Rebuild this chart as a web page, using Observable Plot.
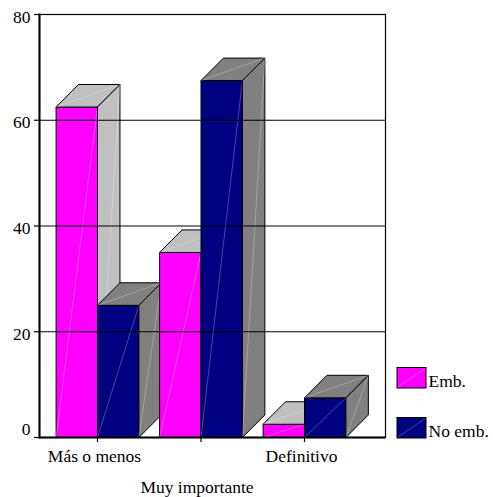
<!DOCTYPE html>
<html>
<head>
<meta charset="utf-8">
<script src="https://cdn.jsdelivr.net/npm/d3@7"></script>
<script src="https://cdn.jsdelivr.net/npm/@observablehq/plot@0.6"></script>
<style>
  body { margin: 0; background: #ffffff; }
  #chart svg { display: block; }
</style>
</head>
<body>
<div id="chart"></div>
<script>
// Survey answers (percent) by group
const categories = ["Más o menos", "Muy importante", "Definitivo"];
const seriesNames = ["Emb.", "No emb."];
const embValues = [62.5, 35, 2.5];
const noEmbValues = [25, 67.5, 7.5];
const yTicks = [0, 20, 40, 60, 80];

// Face colours for each series: front face and the shaded top/side faces
const seriesStyle = [
  { front: "#ff00ff", shade: "#c0c0c0" },
  { front: "#000080", shade: "#808080" }
];

// Bar width in category units and the oblique depth of the 3D extrusion
const BAR_W = 0.4;
const DEPTH_X = 0.217; // category units
const DEPTH_Y = 4.26;  // value units

const seriesValues = [embValues, noEmbValues];
const bars = [];
categories.forEach((category, i) => {
  seriesValues.forEach((vals, s) => {
    const x1 = i - BAR_W + s * BAR_W;
    bars.push({ category, series: seriesNames[s], s, x1, x2: x1 + BAR_W, value: vals[i] });
  });
});

const P = (x, y) => ({ x, y });

// Front, top and side faces of one extruded bar, each with its shading diagonal
function barFaces(b) {
  const { x1, x2, value: v } = b;
  const st = seriesStyle[b.s];
  return [
    {
      fill: st.front,
      pts: [P(x1, 0), P(x2, 0), P(x2, v), P(x1, v), P(x1, 0)],
      diag: [P(x1, 0), P(x2, v)]
    },
    {
      fill: st.shade,
      pts: [P(x1, v), P(x2, v), P(x2 + DEPTH_X, v + DEPTH_Y), P(x1 + DEPTH_X, v + DEPTH_Y), P(x1, v)],
      diag: [P(x1, v), P(x2 + DEPTH_X, v + DEPTH_Y)]
    },
    {
      fill: st.shade,
      pts: [P(x2, 0), P(x2 + DEPTH_X, DEPTH_Y), P(x2 + DEPTH_X, v + DEPTH_Y), P(x2, v), P(x2, 0)],
      diag: [P(x2, 0), P(x2 + DEPTH_X, v + DEPTH_Y)]
    }
  ];
}

// Bars are painted left to right so nearer faces overlap earlier ones
const barMarks = bars.flatMap(b => barFaces(b).flatMap(f => [
  Plot.line(f.pts, { x: "x", y: "y", fill: f.fill, stroke: "black", strokeWidth: 1, strokeLinejoin: "miter" }),
  Plot.line(f.diag, { x: "x", y: "y", stroke: "white", strokeOpacity: 0.35, strokeWidth: 0.8 })
]));

const labelRows = categories.map((label, i) => ({ label, i, row: i % 2 }));

const font = "'Liberation Serif', 'Times New Roman', serif";
const fontSize = 17.5;

const chart = Plot.plot({
  width: 493,
  height: 497,
  marginLeft: 39,
  marginRight: 108,
  marginTop: 14,
  marginBottom: 60,
  style: { fontFamily: font, fontSize: fontSize + "px", color: "black", background: "white" },
  x: { type: "linear", domain: [-0.5, 2.5], range: [45.25, 355.75], axis: null },
  y: { domain: [0, 80], axis: null },
  marks: [
    ...barMarks,
    Plot.ruleY(yTicks.filter(t => t > 0 && t < 80), { stroke: "black", strokeWidth: 1 }),
    Plot.frame({ stroke: "black", strokeWidth: 1.2 }),
    Plot.frame({ anchor: "left", stroke: "black", strokeWidth: 2 }),
    Plot.ruleY([0], { stroke: "black", strokeWidth: 2 }),
    // y ticks and labels
    Plot.axisY({ ticks: yTicks, tickSize: 5, tickFormat: () => "", label: null, stroke: "black", strokeWidth: 1.2 }),
    Plot.axisY({ ticks: yTicks.filter(t => t > 0), tickSize: 0, tickPadding: 9, dy: 2.5, label: null, fontSize, fill: "black" }),
    Plot.axisY({ ticks: [0], tickSize: 0, tickPadding: 9, dy: -8.5, label: null, fontSize, fill: "black" }),
    // x ticks at category centres
    Plot.axisX({ ticks: categories.map((_, i) => i), tickSize: 5, tickFormat: () => "", label: null, stroke: "black", strokeWidth: 1.2 }),
    // staggered category labels
    Plot.text(labelRows.filter(r => r.row === 0), {
      x: "i", frameAnchor: "bottom", text: "label", dy: 24.7, dx: -3,
      lineAnchor: "bottom", fontSize, fill: "black"
    }),
    Plot.text(labelRows.filter(r => r.row === 1), {
      x: "i", frameAnchor: "bottom", text: "label", dy: 55.7, dx: -4,
      lineAnchor: "bottom", fontSize, fill: "black"
    })
  ]
});

// Legend at the right of the plot
const svg = d3.select(chart);
const legend = svg.append("g")
  .attr("font-family", font)
  .attr("font-size", fontSize)
  .attr("text-anchor", "start");
seriesNames.forEach((name, s) => {
  const y0 = 367.5 + s * 50;
  const g = legend.append("g").attr("transform", `translate(397,${y0})`);
  g.append("rect").attr("width", 29).attr("height", 20.5)
    .attr("fill", seriesStyle[s].front).attr("stroke", "black").attr("stroke-width", 1);
  g.append("line").attr("x1", 1).attr("y1", 19.5).attr("x2", 28).attr("y2", 1)
    .attr("stroke", "white").attr("stroke-opacity", 0.35).attr("stroke-width", 0.8);
  g.append("text").attr("x", 31.5).attr("y", 19.3).attr("fill", "black")
    .attr("text-anchor", "start").text(name);
});

document.getElementById("chart").appendChild(chart);
</script>
</body>
</html>
